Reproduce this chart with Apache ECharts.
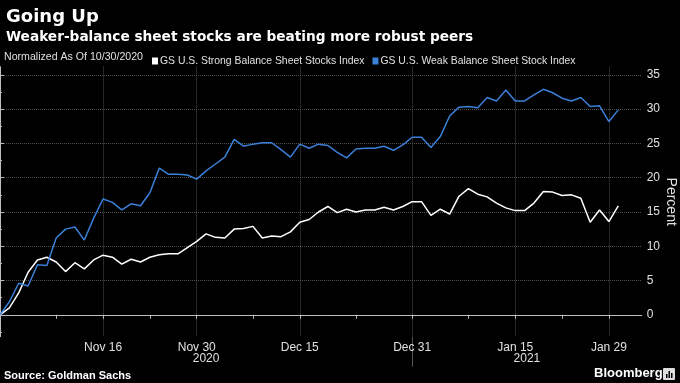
<!DOCTYPE html>
<html><head><meta charset="utf-8">
<script src="https://cdn.jsdelivr.net/npm/echarts@6/dist/echarts.min.js"></script>
<style>html,body{margin:0;padding:0;background:#000;}#c{width:680px;height:383px;}</style>
</head><body><div id="c"></div>
<script>
// Weekday dates (holidays carry previous value)
const dates = [
'2020-10-30',
'2020-11-02','2020-11-03','2020-11-04','2020-11-05','2020-11-06',
'2020-11-09','2020-11-10','2020-11-11','2020-11-12','2020-11-13',
'2020-11-16','2020-11-17','2020-11-18','2020-11-19','2020-11-20',
'2020-11-23','2020-11-24','2020-11-25','2020-11-26','2020-11-27',
'2020-11-30','2020-12-01','2020-12-02','2020-12-03','2020-12-04',
'2020-12-07','2020-12-08','2020-12-09','2020-12-10','2020-12-11',
'2020-12-14','2020-12-15','2020-12-16','2020-12-17','2020-12-18',
'2020-12-21','2020-12-22','2020-12-23','2020-12-24','2020-12-25',
'2020-12-28','2020-12-29','2020-12-30','2020-12-31','2021-01-01',
'2021-01-04','2021-01-05','2021-01-06','2021-01-07','2021-01-08',
'2021-01-11','2021-01-12','2021-01-13','2021-01-14','2021-01-15',
'2021-01-18','2021-01-19','2021-01-20','2021-01-21','2021-01-22',
'2021-01-25','2021-01-26','2021-01-27','2021-01-28','2021-01-29',
'2021-02-01'
];
const strongIndex = [
0, 1.0, 3.2, 6.2, 8.0, 8.4,
7.7, 6.3, 7.6, 6.7, 8.0,
8.7, 8.4, 7.4, 8.1, 7.7,
8.4, 8.75, 8.9, 8.9, 9.8,
10.7, 11.8, 11.3, 11.2, 12.5,
12.6, 12.9, 11.2, 11.5, 11.4,
12.1, 13.5, 13.9, 15.0, 15.8,
14.9, 15.4, 15.0, 15.3, 15.3,
15.7, 15.3, 15.8, 16.5, 16.5,
14.5, 15.4, 14.7, 17.3, 18.4,
17.6, 17.2, 16.3, 15.6, 15.2,
15.2, 16.3, 18.0, 17.9, 17.4,
17.5, 17.0, 13.5, 15.3, 13.6,
15.9
];
const weakIndex = [
0, 1.9, 4.6, 4.2, 7.3, 7.2,
11.2, 12.5, 12.8, 10.9, 14.1,
16.9, 16.4, 15.3, 16.2, 15.9,
17.8, 21.4, 20.5, 20.5, 20.4,
19.8, 21.0, 22.0, 23.0, 25.6,
24.6, 24.9, 25.1, 25.1, 24.1,
23.0, 24.9, 24.3, 24.9, 24.7,
23.7, 22.9, 24.2, 24.3, 24.3,
24.6, 24.0, 24.8, 25.9, 25.9,
24.4, 26.0, 29.0, 30.3, 30.4,
30.2, 31.7, 31.2, 32.8, 31.2,
31.2, 32.1, 32.9, 32.4, 31.6,
31.2, 31.7, 30.4, 30.5, 28.2,
29.9
];
const tickDates = ['2020-11-16','2020-11-30','2020-12-15','2020-12-31','2021-01-15','2021-01-29'];
const tickLabels = ['Nov 16','Nov 30','Dec 15','Dec 31','Jan 15','Jan 29'];
const minorTickDates = ['2020-11-09','2020-11-23','2020-12-08','2020-12-23','2021-01-08','2021-01-22'];
const yearLabels = ['2020','2021'];
const yearBreakDate = '2020-12-31';
const yTicks = [0,5,10,15,20,25,30,35];
const yMinorTicks = [-2.5,2.5,7.5,12.5,17.5,22.5,27.5,32.5];
const seriesNames = ['GS U.S. Strong Balance Sheet Stocks Index','GS U.S. Weak Balance Sheet Stock Index'];

const X_MAX = 68.5, Y_MIN = -3.2, Y_MAX = 36.2;
const idx = d => dates.indexOf(d);
const tickIdx = tickDates.map(idx);
const labelMap = {}; tickIdx.forEach((v,i)=>labelMap[v]=tickLabels[i]);
const minorIdx = minorTickDates.map(idx);
const breakIdx = idx(yearBreakDate);
const yearPos = [breakIdx/2, (breakIdx + X_MAX)/2];
const yearMap = {}; yearPos.forEach((v,i)=>yearMap[v]=yearLabels[i]);

const axisCol = '#bdbdbd', txtCol = '#e0e0e0', gridCol = '#505050';
const FONT = 'Liberation Sans';
const baseX = {type:'value', min:0, max:X_MAX, position:'bottom', gridIndex:0};
const chart = echarts.init(document.getElementById('c'), null, {renderer:'canvas'});
chart.setOption({
  backgroundColor:'#000',
  animation:false,
  title:[
    {text:'Going Up', left:1, top:3, textStyle:{color:'#fff', fontSize:18, fontWeight:'bold', fontFamily:'DejaVu Sans'}},
    {text:'Weaker-balance sheet stocks are beating more robust peers', left:1, top:25, textStyle:{color:'#fff', fontSize:13.7, fontWeight:'bold', fontFamily:'DejaVu Sans'}}
  ],
  legend:{
    left:147, top:51, itemWidth:6, itemHeight:7, itemGap:8, icon:'rect',
    data:seriesNames,
    textStyle:{color:txtCol, fontSize:10.4, fontFamily:FONT, padding:[0,0,0,-3]}
  },
  graphic:[
    {type:'text', left:4, top:52, style:{text:'Normalized As Of 10/30/2020', fill:txtCol, font:'10.6px "Liberation Sans"'}},
    {type:'text', left:4, top:370, style:{text:'Source: Goldman Sachs', fill:'#fff', font:'bold 11px "Liberation Sans"'}},
    {type:'text', left:594, top:367, style:{text:'Bloomberg', fill:'#fff', font:'bold 13px "Liberation Sans"'}},
    {type:'rect', left:663, top:368, shape:{width:12, height:12, r:1}, style:{fill:'#ddd'}},
    {type:'rect', left:666, top:374, shape:{width:1.5, height:4}, style:{fill:'#000'}},
    {type:'rect', left:668.5, top:371, shape:{width:1.5, height:7}, style:{fill:'#000'}},
    {type:'rect', left:671, top:373, shape:{width:1.5, height:5}, style:{fill:'#000'}}
  ],
  grid:{left:0, right:38.3, top:66.7, bottom:46.3, containLabel:false, outerBoundsMode:'none'},
  xAxis:[
    Object.assign({}, baseX, {
      axisLine:{show:true, lineStyle:{color:axisCol, width:1}},
      axisTick:{show:true, customValues:tickIdx, length:4, lineStyle:{color:axisCol}},
      axisLabel:{show:true, customValues:tickIdx, formatter:v=>labelMap[v]||'', color:txtCol, fontSize:12, fontFamily:FONT, margin:5},
      splitLine:{show:true, lineStyle:{color:gridCol, type:'dotted', width:1}}
    }),
    Object.assign({}, baseX, {
      axisLine:{show:false},
      axisTick:{show:true, customValues:minorIdx, length:4, lineStyle:{color:axisCol}},
      axisLabel:{show:false}, splitLine:{show:false}
    }),
    Object.assign({}, baseX, {
      axisLine:{show:false},
      axisTick:{show:true, customValues:[breakIdx], length:30, lineStyle:{color:'#555'}},
      axisLabel:{show:true, customValues:yearPos, formatter:v=>yearMap[v]||'', color:txtCol, fontSize:12, fontFamily:FONT, margin:16},
      splitLine:{show:false}
    })
  ],
  yAxis:[
    {type:'value', position:'right', min:Y_MIN, max:Y_MAX,
      axisLine:{show:true, lineStyle:{color:axisCol, width:1}},
      axisTick:{show:true, customValues:yTicks, length:4, lineStyle:{color:axisCol}},
      axisLabel:{show:true, customValues:yTicks, color:txtCol, fontSize:12, fontFamily:FONT, margin:5},
      splitLine:{show:true, lineStyle:{color:gridCol, type:'dotted', width:1}},
      name:'Percent', nameLocation:'middle', nameRotate:-90, nameGap:22, nameMoveOverlap:false,
      nameTextStyle:{color:txtCol, fontSize:14, fontFamily:FONT}
    },
    {type:'value', position:'right', min:Y_MIN, max:Y_MAX,
      axisLine:{show:false},
      axisTick:{show:true, customValues:yMinorTicks, length:2, lineStyle:{color:axisCol}},
      axisLabel:{show:false}, splitLine:{show:false}
    }
  ],
  series:[
    {name:seriesNames[0], type:'line', xAxisIndex:0, yAxisIndex:0, symbol:'none',
      data:dates.map((d,i)=>[i, strongIndex[i]]),
      itemStyle:{color:'#ffffff'}, lineStyle:{color:'#ffffff', width:1.5}},
    {name:seriesNames[1], type:'line', xAxisIndex:0, yAxisIndex:0, symbol:'none',
      data:dates.map((d,i)=>[i, weakIndex[i]]),
      itemStyle:{color:'#3a80d8'}, lineStyle:{color:'#3a80d8', width:1.5}}
  ]
});
</script>
</body></html>
